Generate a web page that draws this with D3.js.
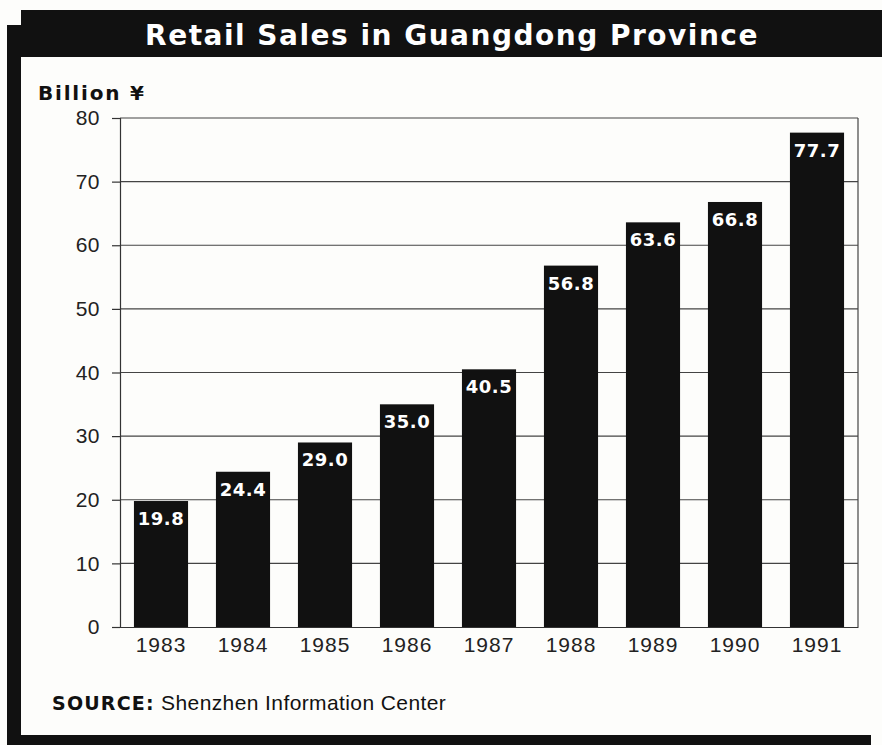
<!DOCTYPE html>
<html>
<head>
<meta charset="utf-8">
<script src="https://cdn.jsdelivr.net/npm/d3@7"></script>
<style>
  body { margin: 0; background: #fdfdfb; }
  svg { display: block; }
</style>
</head>
<body>
<svg id="chart"></svg>
<script>
// chart data
const years = ['1983', '1984', '1985', '1986', '1987', '1988', '1989', '1990', '1991'];
const sales = [19.8, 24.4, 29.0, 35.0, 40.5, 56.8, 63.6, 66.8, 77.7];
const yTicks = [0, 10, 20, 30, 40, 50, 60, 70, 80];

function drawChart() {
    const width = 882;
    const height = 745;
    const plot = { left: 120, right: 858, top: 118, bottom: 627 };
    const plain = "'Liberation Sans', Arial, sans-serif";
    const heavy = "'DejaVu Sans', 'Liberation Sans', sans-serif";

    const svg = d3.select('#chart')
        .attr('width', width)
        .attr('height', height);

    svg.append('rect')
        .attr('width', width).attr('height', height)
        .attr('fill', '#fdfdfb');

    // black frame pieces
    svg.append('rect').attr('x', 21).attr('y', 10).attr('width', 861).attr('height', 47).attr('fill', '#111');
    svg.append('rect').attr('x', 7).attr('y', 25).attr('width', 14).attr('height', 720).attr('fill', '#111');
    svg.append('rect').attr('x', 7).attr('y', 735).attr('width', 864).attr('height', 10).attr('fill', '#111');

    // title
    svg.append('text')
        .attr('x', 452)
        .attr('y', 45)
        .attr('text-anchor', 'middle')
        .attr('fill', '#fff')
        .style('font-family', heavy)
        .style('font-weight', 'bold')
        .style('font-size', '28px')
        .style('letter-spacing', '1.5px')
        .text('Retail Sales in Guangdong Province');

    svg.append('text')
        .attr('x', 38)
        .attr('y', 100)
        .attr('fill', '#111')
        .style('font-family', heavy)
        .style('font-weight', 'bold')
        .style('font-size', '20px')
        .style('letter-spacing', '1.8px')
        .text('Billion ¥');

    // scales
    const x = d3.scaleBand()
        .domain(years)
        .range([plot.left, plot.right])
        .paddingInner(0.34)
        .paddingOuter(0.17);
    const y = d3.scaleLinear()
        .domain([0, 80])
        .range([plot.bottom, plot.top]);

    // gridlines
    svg.append('g')
        .selectAll('line')
        .data(yTicks.filter(d => d > 0))
        .enter().append('line')
        .attr('x1', plot.left).attr('x2', plot.right)
        .attr('y1', d => y(d)).attr('y2', d => y(d))
        .attr('stroke', '#444')
        .attr('stroke-width', 1.2);

    // right frame edge
    svg.append('line')
        .attr('x1', plot.right).attr('x2', plot.right)
        .attr('y1', plot.top).attr('y2', plot.bottom)
        .attr('stroke', '#444')
        .attr('stroke-width', 1.2);

    const rows = years.map((yr, i) => ({ year: yr, value: sales[i] }));

    // bars
    svg.selectAll('.bar')
        .data(rows)
        .enter().append('rect')
        .attr('class', 'bar')
        .attr('x', d => x(d.year))
        .attr('width', x.bandwidth())
        .attr('y', d => y(d.value))
        .attr('height', d => plot.bottom - y(d.value))
        .attr('fill', '#111');

    // value labels
    svg.selectAll('.val')
        .data(rows)
        .enter().append('text')
        .attr('class', 'val')
        .attr('x', d => x(d.year) + x.bandwidth() / 2)
        .attr('y', d => y(d.value) + 24)
        .attr('text-anchor', 'middle')
        .attr('fill', '#fff')
        .style('font-family', heavy)
        .style('font-weight', 'bold')
        .style('font-size', '18px')
        .style('letter-spacing', '0.5px')
        .text(d => d.value.toFixed(1));

    // y axis
    const yAxis = svg.append('g')
        .attr('transform', `translate(${plot.left}, 0)`)
        .call(d3.axisLeft(y).tickValues(yTicks).tickSize(8).tickPadding(12));
    yAxis.select('.domain').attr('stroke', '#333').attr('stroke-width', 1.2);
    yAxis.selectAll('.tick line').attr('stroke', '#333').attr('stroke-width', 1.2);
    yAxis.selectAll('text')
        .attr('fill', '#222')
        .style('font-family', plain)
        .style('font-size', '21px')
        .style('letter-spacing', '0.5px');

    // x axis
    const xAxis = svg.append('g')
        .attr('transform', `translate(0, ${plot.bottom})`)
        .call(d3.axisBottom(x).tickSize(0).tickPadding(10));
    xAxis.select('.domain').attr('stroke', '#333').attr('stroke-width', 1.2);
    xAxis.selectAll('text')
        .attr('fill', '#222')
        .style('font-family', plain)
        .style('font-size', '21px')
        .style('letter-spacing', '1px');

    // source note
    const src = svg.append('text')
        .attr('x', 52)
        .attr('y', 710)
        .attr('fill', '#111');
    src.append('tspan').style('font-family', heavy).style('font-weight', 'bold')
        .style('font-size', '19px').style('letter-spacing', '1.2px').text('SOURCE:');
    src.append('tspan').style('font-family', plain).style('font-size', '21px')
        .style('letter-spacing', '0.4px').text(' Shenzhen Information Center');
}

window.addEventListener('load', drawChart);
</script>
</body>
</html>
